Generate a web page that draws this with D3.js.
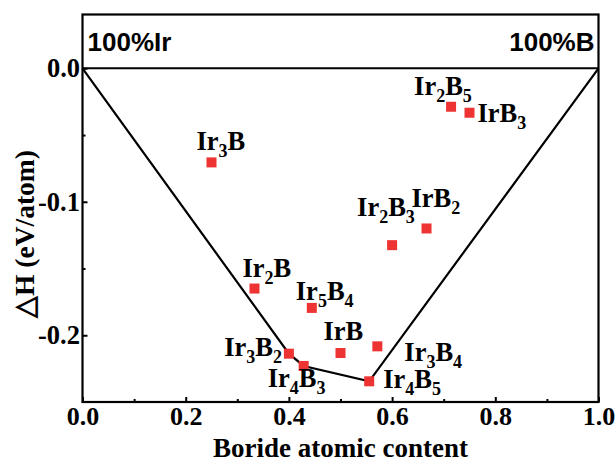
<!DOCTYPE html>
<html><head><meta charset="utf-8">
<script src="https://cdn.jsdelivr.net/npm/d3@7"></script>
<style>
body{margin:0;background:#fff;}
svg{display:block;}
text{font-family:"Liberation Serif","Times New Roman",serif;font-weight:bold;fill:#000;}
</style></head>
<body><svg id="c" width="615" height="462"></svg>
<script>
// ---- data ----
const names = ["Ir3B","Ir2B","Ir3B2","Ir4B3","Ir5B4","IrB","Ir4B5","Ir3B4","Ir2B3","IrB2","Ir2B5","IrB3"];
const labelParts = [
  [["Ir",0],["3",1],["B",0]],
  [["Ir",0],["2",1],["B",0]],
  [["Ir",0],["3",1],["B",0],["2",1]],
  [["Ir",0],["4",1],["B",0],["3",1]],
  [["Ir",0],["5",1],["B",0],["4",1]],
  [["IrB",0]],
  [["Ir",0],["4",1],["B",0],["5",1]],
  [["Ir",0],["3",1],["B",0],["4",1]],
  [["Ir",0],["2",1],["B",0],["3",1]],
  [["IrB",0],["2",1]],
  [["Ir",0],["2",1],["B",0],["5",1]],
  [["IrB",0],["3",1]]
];
const boronContent = [0.25, 0.3333, 0.4, 0.4286, 0.4444, 0.5, 0.5556, 0.5714, 0.6, 0.6667, 0.7143, 0.75];
const formationEnergy = [-0.0705, -0.165, -0.2138, -0.223, -0.1795, -0.2133, -0.2345, -0.2083, -0.1325, -0.12, -0.0288, -0.0333];
const hullX = [0, 0.4, 0.4286, 0.5556, 1];
const hullY = [0, -0.2138, -0.223, -0.2345, 0];
const xTicks = [0, 0.2, 0.4, 0.6, 0.8, 1.0];
const xTickLabels = ["0.0","0.2","0.4","0.6","0.8","1.0"];
const xMinor = [0.1, 0.3, 0.5, 0.7, 0.9];
const yTicks = [0, -0.1, -0.2];
const yTickLabels = ["0.0","-0.1","-0.2"];
const yMinor = [-0.05, -0.15];
// label layout: [dx, dy, anchor]
const labelOffsets = [[-15,-12,"start"],[-12,-12,"start"],[-7,2,"end"],[-36,21,"start"],[-16,-8,"start"],[-17,-13,"start"],[14,7,"start"],[27,15,"start"],[-35,-29,"start"],[-15,-21,"start"],[-37,-12,"start"],[8,9,"start"]];

// ---- layout ----
const svg = d3.select("#c");
const L = 82.5, R = 598.5, B = 402, T0 = 68.3, TOP = 14.5;
const x = d3.scaleLinear().domain([0,1]).range([L,R]);
const y = d3.scaleLinear().domain([-0.25,0]).range([B,T0]);

// frame
svg.append("rect").attr("x",L).attr("y",TOP).attr("width",R-L).attr("height",B-TOP)
  .attr("fill","none").attr("stroke","#000").attr("stroke-width",2.2);
svg.append("line").attr("x1",L).attr("x2",R).attr("y1",y(0)).attr("y2",y(0))
  .attr("stroke","#000").attr("stroke-width",2);

// x axis
const xAxis = d3.axisBottom(x).tickValues(xTicks).tickSize(-5).tickPadding(5)
  .tickFormat((d,i)=>xTickLabels[i]);
const gx = svg.append("g").attr("transform",`translate(0,${B})`).call(xAxis);
gx.select(".domain").remove();
gx.selectAll("line").attr("stroke","#000").attr("stroke-width",2);
gx.selectAll("text").attr("font-size",26).attr("font-family","Liberation Serif").attr("font-weight","bold").attr("fill","#000");
const gxm = svg.append("g").attr("transform",`translate(0,${B})`)
  .call(d3.axisBottom(x).tickValues(xMinor).tickSize(-3).tickFormat(""));
gxm.select(".domain").remove();
gxm.selectAll("line").attr("stroke","#000").attr("stroke-width",2);

// y axis
const yAxis = d3.axisLeft(y).tickValues(yTicks).tickSize(-5).tickPadding(2.5)
  .tickFormat((d,i)=>yTickLabels[i]);
const gy = svg.append("g").attr("transform",`translate(${L},0)`).call(yAxis);
gy.select(".domain").remove();
gy.selectAll("line").attr("stroke","#000").attr("stroke-width",2);
gy.selectAll("text").attr("font-size",26.5).attr("font-family","Liberation Serif").attr("font-weight","bold").attr("fill","#000");
const gym = svg.append("g").attr("transform",`translate(${L},0)`)
  .call(d3.axisLeft(y).tickValues(yMinor).tickSize(-3).tickFormat(""));
gym.select(".domain").remove();
gym.selectAll("line").attr("stroke","#000").attr("stroke-width",2);

// hull line
const line = d3.line().x(d=>x(d[0])).y(d=>y(d[1]));
svg.append("path").datum(hullX.map((v,i)=>[v,hullY[i]]))
  .attr("d",line).attr("fill","none").attr("stroke","#000").attr("stroke-width",2.2);

// points
const pts = names.map((n,i)=>({n, x:boronContent[i], y:formationEnergy[i], parts:labelParts[i], off:labelOffsets[i]}));
svg.append("g").selectAll("rect").data(pts).join("rect")
  .attr("x",d=>x(d.x)-5).attr("y",d=>y(d.y)-5).attr("width",10).attr("height",10)
  .attr("fill","#ee3333");

// labels
pts.forEach(d=>{
  const t = svg.append("text")
    .attr("x",x(d.x)+d.off[0]).attr("y",y(d.y)+d.off[1])
    .attr("text-anchor",d.off[2]).attr("font-size",26.5);
  let prevSub = false;
  d.parts.forEach(p=>{
    const ts = t.append("tspan").text(p[0]);
    if (p[1]) { ts.attr("font-size",18).attr("dy", prevSub?0:7); prevSub = true; }
    else { if (prevSub) ts.attr("dy",-7); prevSub = false; }
  });
});

// corner labels
svg.append("text").attr("x",L+5).attr("y",51).attr("font-size",26)
  .style("font-family","'Liberation Sans',Arial,sans-serif").text("100%Ir");
svg.append("text").attr("x",R-4).attr("y",51).attr("font-size",26).attr("text-anchor","end")
  .style("font-family","'Liberation Sans',Arial,sans-serif").text("100%B");

// axis titles
svg.append("text").attr("x",(L+R)/2).attr("y",457).attr("text-anchor","middle")
  .attr("font-size",27).text("Boride atomic content");
svg.append("text").attr("transform",`translate(34,${234}) rotate(-90)`).attr("text-anchor","middle")
  .attr("font-size",27.5).text("\u25B3H (eV/atom)");
</script></body></html>
